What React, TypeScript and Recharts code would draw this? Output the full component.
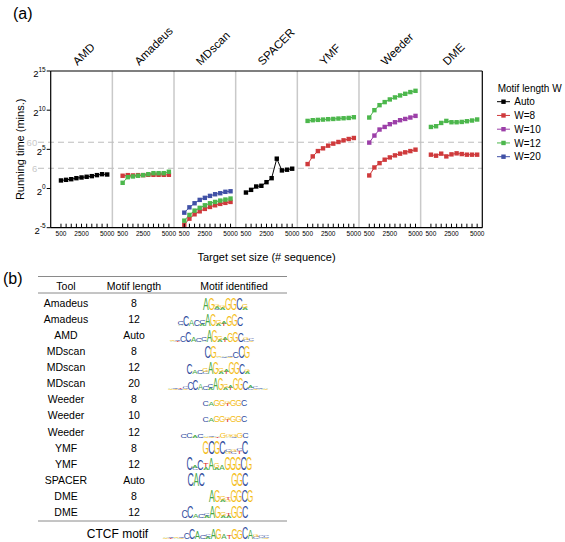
import React from 'react';
import { LineChart, Line, XAxis, YAxis, ReferenceLine, Legend } from 'recharts';

// (a) running time as log2(minutes)
const sizes = [500, 1000, 1500, 2000, 2500, 3000, 3500, 4000, 4500, 5000];
const sizeLabels = [500, 2500, 5000];
const tools = ['AMD', 'Amadeus', 'MDscan', 'SPACER', 'YMF', 'Weeder', 'DME'];
const yTicks = [-5, 0, 5, 10, 15];
const cutoffs = [60, 6]; // minutes

const amdAuto = [1.03, 1.11, 1.19, 1.32, 1.41, 1.5, 1.58, 1.71, 1.83, 1.79];
const amadeusW8 = [1.63, 1.71, 1.67, 1.71, 1.71, 1.75, 1.75, 1.75, 1.75, 1.75];
const amadeusW12 = [0.73, 1.45, 1.54, 1.63, 1.71, 1.83, 1.96, 1.96, 1.96, 2.14];
const mdscanW8 = [-4.62, -3.85, -3.29, -2.91, -2.6, -2.35, -2.14, -1.96, -1.83, -1.71];
const mdscanW12 = [-4.1, -3.37, -2.82, -2.47, -2.14, -1.88, -1.71, -1.54, -1.41, -1.28];
const mdscanW20 = [-3.08, -2.4, -1.88, -1.45, -1.19, -0.94, -0.73, -0.6, -0.42, -0.35];
const spacerAuto = [-0.51, -0.17, 0.26, 0.35, 0.81, 1.32, 3.81, 2.31, 2.4, 2.53];
const ymfW8 = [3.12, 4.1, 4.78, 5.13, 5.47, 5.73, 5.94, 6.15, 6.32, 6.45];
const ymfW12 = [8.63, 8.72, 8.76, 8.8, 8.85, 8.88, 8.93, 8.97, 9.01, 9.1];
const weederW8 = [1.67, 2.69, 3.24, 3.68, 3.97, 4.23, 4.45, 4.62, 4.78, 4.96];
const weederW10 = [5.86, 6.76, 7.53, 7.86, 8.21, 8.46, 8.72, 8.88, 9.06, 9.27];
const weederW12 = [9.06, 10.0, 10.64, 11.03, 11.37, 11.63, 11.88, 12.09, 12.31, 12.47];
const dmeW8 = [4.32, 4.19, 4.45, 4.1, 4.36, 4.49, 4.4, 4.32, 4.32, 4.32];
const dmeW12 = [7.86, 7.95, 8.37, 8.63, 8.46, 8.46, 8.5, 8.59, 8.68, 8.81];

const seriesNames = ['Auto', 'W=8', 'W=10', 'W=12', 'W=20'];
const seriesColors = ['#000000', '#cf3a3c', '#9c3fa8', '#4cb74c', '#4051a6'];

const runs = [
  { tool: 0, series: 0, values: amdAuto },
  { tool: 1, series: 1, values: amadeusW8 },
  { tool: 1, series: 3, values: amadeusW12 },
  { tool: 2, series: 1, values: mdscanW8 },
  { tool: 2, series: 3, values: mdscanW12 },
  { tool: 2, series: 4, values: mdscanW20 },
  { tool: 3, series: 0, values: spacerAuto },
  { tool: 4, series: 3, values: ymfW12 },
  { tool: 4, series: 1, values: ymfW8 },
  { tool: 5, series: 3, values: weederW12 },
  { tool: 5, series: 2, values: weederW10 },
  { tool: 5, series: 1, values: weederW8 },
  { tool: 6, series: 3, values: dmeW12 },
  { tool: 6, series: 1, values: dmeW8 },
];

// (b) table
const tableTools = ['Amadeus', 'Amadeus', 'AMD', 'MDscan', 'MDscan', 'MDscan', 'Weeder', 'Weeder', 'Weeder', 'YMF', 'YMF', 'SPACER', 'DME', 'DME'];
const tableLengths = ['8', '12', 'Auto', '8', '12', '20', '8', '10', '12', '8', '12', 'Auto', '8', '12'];
// logo columns, letters listed top to bottom with their heights
const tableLogos = [
  'A12 G12 G3A2C1 G2A2 G12 G12 C12 G4A2',
  'C4A1 C11 A7 C7 C4A2 A12 G12 G4A2 A3T2 G11 G12 C10',
  'G1A1 C1T1 C7 C11 A5 C4 C4A1 A12 G12 G4A2 A2T2 G10 G11 C10 G3C2 C2G1',
  'C12 G12 G1A1 A1C1 C1G1 C6 C12 G12',
  'C11 A4 C4 G4C2 A12 G12 G4A2 A3T2 G12 G12 C11 G3A2',
  'A1G1 C1G1 T1C1 C3G1 C8 C11 A6 C4 C4A2 A12 G12 G4A2 A2T2 G12 G12 C10 A3C2 C2G1 C1A1 A1G1',
  'C5 A4 G7 G7 G2T2 G6 G6 C6',
  'C5 A4 G7 G7 G2T2 G6 G6 C6',
  'C4 C5 A2 C4 A1G1 C1G1 A1T1 G5 G3A1 G3C1 G5 C5',
  'G13 C13 G13 C13 C3G2 G3C2 C2T3 C13',
  'C13 A3C2 C11 T4A3 A12 G5A2 A5 G13 G13 G13 C13 G13',
  'C13 A13 C13 - - - - - G13 G13 C13',
  'A12 G12 G4A2 T3G2 G12 G12 C12 G12',
  'C8 C12 A4 C4 C3A2 A12 G12 G4A2 T3A2 G12 G12 C12',
];
const ctcfLogo = 'A1G1 C1T1 G1A1 C1G1 C6 C11 A8 C4 C3A2 A11 G11 A5 T4 G11 G10 C12 A10 G3C2 C2A1 C2G1';

const logoX = [203, 178, 170, 205, 187, 168, 203, 203, 181, 203, 187, 188, 209, 182];
const logoW = [5.6, 5.4, 5.25, 5.6, 5.25, 5.0, 5.5, 5.5, 5.6, 5.6, 5.4, 5.45, 5.5, 5.5];

const FONT = '"Liberation Sans", Arial, Helvetica, sans-serif';
const PANEL = 6000;
const letterColors: Record<string, string> = { A: '#45a845', C: '#2f4c9e', G: '#f4bd16', T: '#e0302c' };
const inkW: Record<string, number> = { A: 6.6, C: 6.3, G: 6.8, T: 5.8 };
const lsb: Record<string, number> = { A: 0.05, C: 0.5, G: 0.5, T: 0.2 };

const px = (tool: number, size: number) => tool * PANEL + size + 500;
const xTicks = tools.flatMap((_, i) => sizes.map((s) => px(i, s)));

const SquareDot = (color: string) => (p: any) => (
  <rect key={p.key ?? `${p.cx}-${p.cy}`} x={p.cx - 2.2} y={p.cy - 2.2} width={4.4} height={4.4} fill={color} />
);

const XTick = (p: any) => {
  const size = p.payload.value % PANEL - 500;
  return (
    <g>
      <line x1={p.x} y1={p.y} x2={p.x} y2={p.y - 4} stroke="#000" strokeWidth={1} />
      {sizeLabels.includes(size) && (
        <text x={p.x} y={p.y + 8.5} textAnchor="middle" fontSize={6.5} fill="#000" fontFamily={FONT}>
          {size}
        </text>
      )}
    </g>
  );
};

const YTick = (p: any) => (
  <text x={p.x} y={p.y + 6} textAnchor="end" fill="#000" fontFamily={FONT}>
    <tspan fontSize={9.5}>2</tspan>
    <tspan fontSize={6.5} dy={-5.5}>{p.payload.value}</tspan>
  </text>
);

const CutoffLine = (label: string) => (p: any) => {
  const x0 = Math.min(p.x1, p.x2);
  const x1 = Math.max(p.x1, p.x2);
  return (
    <g>
      <line x1={x0 - 12.7} y1={p.y1} x2={x1} y2={p.y2} stroke="#bdbdbd" strokeWidth={1} strokeDasharray="6 4" />
      <text x={x0 - 13.5} y={p.y1 + 3.4} textAnchor="end" fontSize={9.5} fill="#c9c9c9" fontFamily={FONT}>
        {label}
      </text>
    </g>
  );
};

const ToolName = (name: string) => (p: any) => {
  const top = Math.min(p.y1, p.y2);
  const x = p.x1 - 4;
  const y = top - 5;
  return (
    <text x={x} y={y} transform={`rotate(-45 ${x} ${y})`} fontSize={11.5} fill="#000" fontFamily={FONT}>
      {name}
    </text>
  );
};

const LegendBox = () => (
  <svg width={73} height={85} style={{ display: 'block' }}>
    <text x={5.7} y={11.6} fontSize={10} fill="#000" fontFamily={FONT}>
      Motif length W
    </text>
    {seriesNames.map((name, k) => {
      const cy = 21.7 + k * 13.75;
      return (
        <g key={name}>
          <line x1={5} y1={cy} x2={18} y2={cy} stroke={seriesColors[k]} strokeWidth={1} />
          <rect x={9.3} y={cy - 2.2} width={4.4} height={4.4} fill={seriesColors[k]} />
          <text x={22.3} y={cy + 3.6} fontSize={10} fill="#000" fontFamily={FONT}>
            {name}
          </text>
        </g>
      );
    })}
  </svg>
);

const Logo = ({ cols, x, w, base }: { cols: string; x: number; w: number; base: number }) => {
  const out: React.ReactNode[] = [];
  cols.split(' ').forEach((col, ci) => {
    if (col === '-') return;
    const parts = [...col.matchAll(/([ACGT])(\d+)/g)].map((m) => [m[1], Number(m[2])] as [string, number]);
    let y = base;
    for (let k = parts.length - 1; k >= 0; k--) {
      const [ch, h] = parts[k];
      const sx = w / inkW[ch];
      const sy = h / 7.3;
      out.push(
        <text
          key={`${ci}-${k}`}
          transform={`translate(${x + ci * w - lsb[ch] * sx},${y}) scale(${sx},${sy})`}
          fontSize={10}
          fill={letterColors[ch]}
          fontFamily={FONT}
        >
          {ch}
        </text>
      );
      y -= h;
    }
  });
  return <g>{out}</g>;
};

export default function App() {
  const rowY = (i: number) => 303.3 + i * 16.05;
  return (
    <div style={{ position: 'absolute', left: 0, top: 0, width: 565, height: 542, background: '#fff', fontFamily: FONT }}>
      <LineChart width={565} height={268} margin={{ top: 71, right: 82.7, bottom: 0.3, left: 10.7 }}>
        <XAxis
          dataKey="x"
          type="number"
          domain={[0, PANEL * tools.length]}
          ticks={xTicks}
          interval={0}
          tick={<XTick />}
          tickLine={false}
          tickSize={0}
          tickMargin={0}
          height={40}
          axisLine={{ stroke: '#000', strokeWidth: 1.2 }}
          label={{ value: 'Target set size (# sequence)', position: 'insideBottom', offset: 7, fontSize: 11, fill: '#000', fontFamily: FONT }}
        />
        <YAxis
          type="number"
          domain={[-5, 15]}
          ticks={yTicks}
          interval={0}
          width={40}
          tick={<YTick />}
          tickSize={4}
          tickMargin={1}
          tickLine={{ stroke: '#000' }}
          axisLine={{ stroke: '#000', strokeWidth: 1.2 }}
          label={{ value: 'Running time (mins.)', angle: -90, position: 'insideLeft', offset: 9.5, fontSize: 11, fill: '#000', fontFamily: FONT, style: { textAnchor: 'middle' } }}
        />
        {tools.slice(1).map((_, i) => (
          <ReferenceLine key={`sep${i}`} x={(i + 1) * PANEL} stroke="#c9c9c9" strokeWidth={1.5} />
        ))}
        {cutoffs.map((m) => (
          <ReferenceLine key={`cut${m}`} y={Math.log2(m)} shape={CutoffLine(String(m))} />
        ))}
        <ReferenceLine y={15} stroke="#000" strokeWidth={1.2} />
        <ReferenceLine x={PANEL * tools.length} stroke="#000" strokeWidth={1.2} />
        {tools.map((t, i) => (
          <ReferenceLine key={`name${t}`} x={i * PANEL + PANEL / 2} shape={ToolName(t)} />
        ))}
        {runs.map((r, i) => (
          <Line
            key={`run${i}`}
            data={sizes.map((s, k) => ({ x: px(r.tool, s), y: r.values[k] }))}
            dataKey="y"
            type="linear"
            stroke={seriesColors[r.series]}
            strokeWidth={1}
            dot={SquareDot(seriesColors[r.series])}
            activeDot={false}
            isAnimationActive={false}
            legendType="none"
          />
        ))}
        <Legend
          layout="vertical"
          align="center"
          verticalAlign="middle"
          wrapperStyle={{ left: 492, top: 80, width: 73 }}
          content={() => <LegendBox />}
        />
      </LineChart>

      <svg width={565} height={542} style={{ position: 'absolute', left: 0, top: 0, pointerEvents: 'none' }} fontFamily={FONT}>
        <text x={13} y={18.8} fontSize={16} fill="#000">(a)</text>
        <text x={3} y={284} fontSize={16} fill="#000">(b)</text>

        <line x1={38} y1={276.5} x2={287} y2={276.5} stroke="#8a8a8a" strokeWidth={1} />
        <line x1={38} y1={293} x2={287} y2={293} stroke="#8a8a8a" strokeWidth={1} />
        <line x1={38} y1={521} x2={287} y2={521} stroke="#8a8a8a" strokeWidth={1} />
        <text x={66} y={289.5} fontSize={10.5} textAnchor="middle" fill="#000">Tool</text>
        <text x={134} y={289.5} fontSize={10.5} textAnchor="middle" fill="#000">Motif length</text>
        <text x={234} y={289.5} fontSize={10.5} textAnchor="middle" fill="#000">Motif identified</text>

        {tableTools.map((t, i) => (
          <g key={`row${i}`}>
            <text x={66} y={rowY(i) + 3.8} fontSize={10.5} textAnchor="middle" fill="#000">{t}</text>
            <text x={134} y={rowY(i) + 3.8} fontSize={10.5} textAnchor="middle" fill="#000">{tableLengths[i]}</text>
            <Logo cols={tableLogos[i]} x={logoX[i]} w={logoW[i]} base={rowY(i) + 6.2} />
          </g>
        ))}

        <text x={117.5} y={538.3} fontSize={12} textAnchor="middle" fill="#000">CTCF motif</text>
        <Logo cols={ctcfLogo} x={163} w={5.3} base={538.5} />
      </svg>
    </div>
  );
}
